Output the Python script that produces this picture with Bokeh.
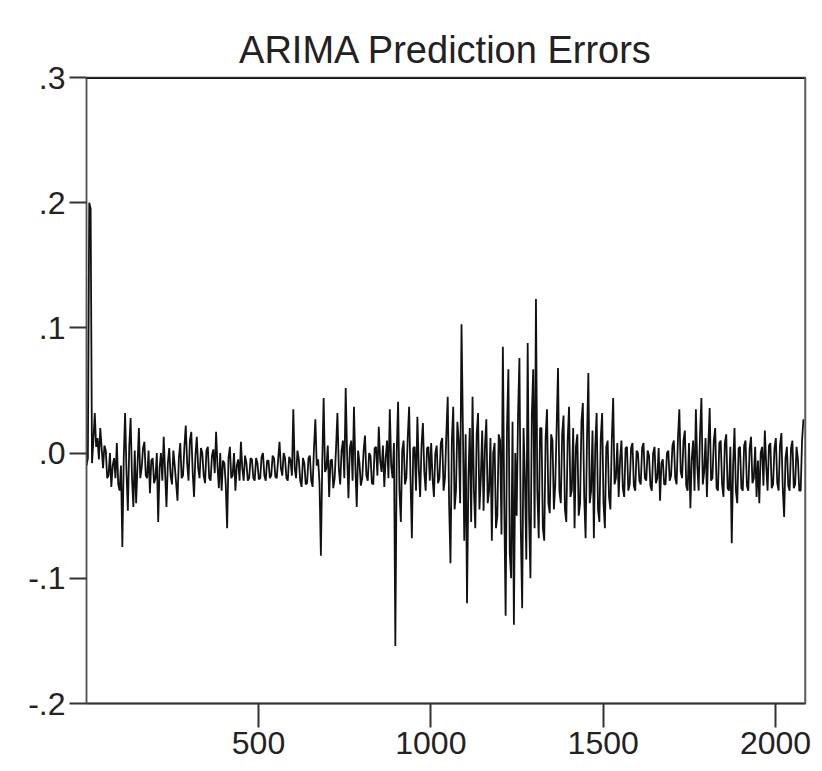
from bokeh.plotting import figure
from bokeh.models import Range1d, FixedTicker, Span
from bokeh.embed import file_html
from bokeh.resources import INLINE

# ---- data ----
obs_start = 1
obs_step = 4
errors = [
    -0.010, -0.004, 0.200, 0.195, -0.008, 0.010, 0.032, 0.005, 0.012, -0.005,
    0.020, 0.004, -0.012, 0.006, 0.002, -0.020, -0.018, 0.000, -0.027, -0.010,
    -0.004, -0.020, 0.008, -0.025, -0.030, -0.010, -0.075, -0.005, 0.032, -0.015,
    -0.046, 0.005, 0.028, -0.020, -0.043, 0.002, -0.040, -0.010, 0.020, -0.020,
    -0.012, 0.004, 0.009, -0.018, -0.020, 0.002, -0.032, -0.006, -0.004, -0.024,
    -0.020, 0.000, -0.055, -0.012, 0.000, -0.022, 0.013, -0.015, -0.043, -0.008,
    0.004, -0.018, -0.025, 0.002, -0.010, -0.024, -0.038, -0.004, 0.008, -0.020,
    -0.018, 0.005, 0.022, -0.008, -0.022, 0.010, 0.017, -0.015, -0.035, -0.002,
    0.013, -0.012, -0.020, 0.004, 0.000, -0.018, -0.024, 0.002, 0.005, -0.020,
    -0.022, -0.002, 0.003, -0.016, 0.017, -0.010, -0.028, 0.000, -0.030, -0.006,
    -0.008, -0.025, -0.060, -0.004, 0.005, -0.020, -0.018, 0.000, -0.030, -0.010,
    -0.005, -0.022, 0.009, -0.012, -0.022, -0.002, -0.008, -0.022, -0.020, -0.004,
    -0.005, -0.020, -0.022, -0.004, -0.008, -0.021, -0.020, -0.003, 0.000, -0.018,
    -0.022, -0.006, -0.006, -0.020, -0.018, -0.002, -0.004, -0.019, -0.020, -0.005,
    0.009, -0.012, -0.018, 0.000, -0.004, -0.020, -0.022, -0.003, -0.006, -0.018,
    0.035, -0.012, -0.020, 0.002, -0.005, -0.022, -0.027, -0.004, -0.008, -0.025,
    -0.024, -0.004, -0.002, -0.022, -0.027, 0.004, 0.027, -0.010, -0.005, -0.024,
    -0.082, -0.008, 0.044, -0.015, -0.012, 0.006, -0.035, -0.006, -0.005, -0.028,
    -0.020, 0.004, 0.032, -0.012, -0.025, 0.002, 0.010, -0.020, 0.052, 0.000,
    -0.036, 0.004, 0.010, -0.022, 0.037, -0.010, -0.043, 0.002, -0.008, -0.026,
    -0.020, 0.002, 0.014, -0.018, -0.022, 0.000, -0.002, -0.024, -0.025, 0.004,
    0.005, -0.018, 0.021, -0.006, -0.015, 0.006, -0.027, -0.004, 0.010, -0.020,
    0.035, -0.010, -0.020, 0.008, -0.154, 0.000, 0.041, -0.030, -0.055, 0.002,
    0.010, -0.025, -0.020, 0.012, 0.037, -0.020, -0.068, 0.004, 0.005, -0.030,
    0.029, -0.012, -0.035, 0.006, 0.024, -0.015, -0.030, 0.004, 0.005, -0.022,
    0.008, -0.020, -0.035, 0.000, 0.006, -0.024, -0.020, 0.008, 0.012, -0.030,
    -0.020, 0.015, 0.045, -0.040, -0.088, 0.010, 0.037, -0.045, -0.030, 0.025,
    0.010, -0.040, 0.103, 0.020, -0.070, 0.015, -0.120, -0.020, 0.020, -0.055,
    0.045, -0.030, -0.060, 0.015, 0.032, -0.045, -0.020, 0.018, -0.046, 0.005,
    0.027, -0.040, -0.030, 0.012, -0.070, 0.000, 0.008, -0.060, -0.050, 0.015,
    0.010, -0.065, 0.085, -0.040, -0.130, 0.020, 0.067, -0.080, -0.100, 0.025,
    -0.137, 0.000, -0.050, 0.030, 0.076, -0.060, -0.124, 0.020, -0.020, -0.085,
    0.088, -0.050, -0.100, 0.030, 0.067, -0.060, 0.123, -0.030, -0.068, 0.020,
    0.020, -0.060, -0.070, 0.012, 0.035, -0.040, -0.048, 0.015, 0.010, -0.045,
    -0.025, 0.020, 0.068, -0.030, -0.040, 0.015, 0.030, -0.045, -0.055, 0.010,
    0.037, -0.035, -0.030, 0.020, -0.060, 0.005, 0.015, -0.050, -0.040, 0.025,
    0.040, -0.035, -0.068, 0.010, 0.064, -0.040, -0.030, 0.018, -0.068, 0.005,
    0.032, -0.045, -0.055, 0.012, 0.032, -0.040, -0.060, 0.005, 0.010, -0.035,
    -0.045, 0.010, 0.044, -0.025, -0.020, 0.008, -0.035, -0.005, 0.010, -0.028,
    -0.035, 0.004, 0.005, -0.030, -0.025, 0.004, 0.008, -0.026, -0.030, 0.002,
    0.000, -0.022, -0.025, 0.004, 0.008, -0.020, -0.022, 0.002, -0.002, -0.026,
    -0.030, 0.000, 0.005, -0.024, -0.020, 0.004, -0.038, -0.008, -0.005, -0.025,
    -0.025, 0.000, 0.002, -0.022, -0.018, 0.006, 0.010, -0.020, -0.025, 0.012,
    0.035, -0.015, -0.020, 0.010, 0.018, -0.026, -0.030, 0.008, -0.044, -0.005,
    0.010, -0.030, 0.035, -0.010, -0.030, 0.015, 0.044, -0.025, -0.015, 0.012,
    -0.035, 0.005, 0.036, -0.022, -0.020, 0.010, 0.020, -0.028, -0.030, 0.008,
    0.010, -0.025, -0.035, 0.008, 0.015, -0.028, -0.030, 0.005, -0.072, -0.010,
    0.020, -0.030, -0.040, 0.004, 0.005, -0.028, -0.030, 0.006, 0.010, -0.026,
    -0.030, 0.004, 0.013, -0.024, -0.020, 0.005, -0.035, -0.006, -0.040, 0.000,
    0.005, -0.026, 0.018, -0.010, -0.030, 0.006, 0.008, -0.028, -0.025, 0.004,
    0.012, -0.024, -0.030, 0.006, 0.016, -0.028, -0.051, -0.004, 0.005, -0.026,
    -0.030, 0.004, 0.010, -0.028, -0.025, 0.005, -0.005, -0.030, -0.030, 0.010,
    0.027,
]
obs = [obs_start + obs_step * k for k in range(len(errors))]

x_ticks = [500, 1000, 1500, 2000]
x_tick_labels = ["500", "1000", "1500", "2000"]
y_ticks = [-0.2, -0.1, 0.0, 0.1, 0.2, 0.3]
y_tick_labels = ["-.2", "-.1", ".0", ".1", ".2", ".3"]
title_text = "ARIMA Prediction Errors"

FONT = "Liberation Sans"

p = figure(width=814, height=770, output_backend="svg", toolbar_location=None,
           x_range=Range1d(1, 2087), y_range=Range1d(-0.2, 0.3),
           title=title_text, min_border_left=86, min_border_right=9,
           min_border_top=77, min_border_bottom=67)

p.line(obs, errors, line_color="#111111", line_width=1.8)

p.grid.visible = False
p.background_fill_color = "white"
p.border_fill_color = "white"
p.outline_line_color = "#555555"
p.outline_line_width = 1.5

p.title.align = "center"
p.title.text_font = FONT
p.title.text_font_size = "38px"
p.title.text_font_style = "normal"
p.title.text_color = "#222222"
p.title.standoff = 14

xa = p.xaxis[0]
xa.ticker = FixedTicker(ticks=x_ticks)
xa.major_label_overrides = dict(zip(x_ticks, x_tick_labels))
xa.minor_tick_line_color = None
xa.major_tick_in = 0
xa.major_tick_out = 24
xa.major_tick_line_width = 2
xa.major_tick_line_color = "#333333"
xa.axis_line_color = "#333333"
xa.axis_line_width = 2
xa.major_label_text_font = FONT
xa.major_label_text_font_size = "32px"
xa.major_label_text_color = "#222222"
xa.major_label_standoff = 4

ya = p.yaxis[0]
ya.ticker = FixedTicker(ticks=y_ticks)
ya.major_label_overrides = dict(zip(y_ticks, y_tick_labels))
ya.minor_tick_line_color = None
ya.major_tick_in = 0
ya.major_tick_out = 17
ya.major_tick_line_width = 2
ya.major_tick_line_color = "#333333"
ya.axis_line_color = "#555555"
ya.axis_line_width = 1.5
ya.major_label_text_font = FONT
ya.major_label_text_font_size = "32px"
ya.major_label_text_color = "#222222"
ya.major_label_standoff = 4

p.add_layout(Span(location=0.3, dimension="width", line_color="#111111", line_width=3))
p.add_layout(Span(location=2087, dimension="height", line_color="#666666", line_width=2.5))

open("out.html", "w").write(file_html(p, INLINE))
